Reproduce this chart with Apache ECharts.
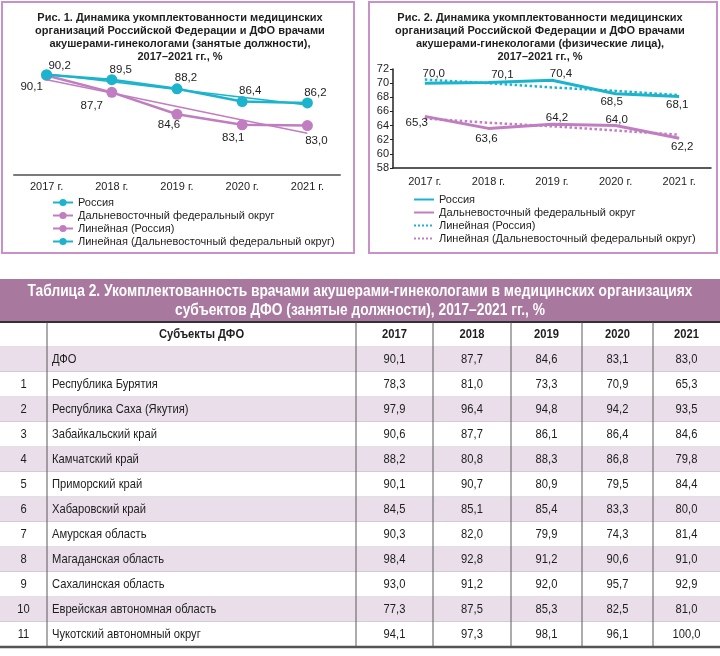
<!DOCTYPE html>
<html><head><meta charset="utf-8">
<script src="https://cdn.jsdelivr.net/npm/echarts@6/dist/echarts.min.js"></script>
<style>
html,body{margin:0;padding:0;background:#fff;width:720px;height:656px;overflow:hidden}
#c1{position:absolute;left:0;top:0;width:360px;height:260px}
#c2{position:absolute;left:360px;top:0;width:360px;height:260px}
#t{position:absolute;left:0;top:260px;width:720px;height:396px}
</style></head><body>
<div id="c1"></div><div id="c2"></div><div id="t"></div>
<script>
// ---------- DATA ----------
const years = ['2017 г.', '2018 г.', '2019 г.', '2020 г.', '2021 г.'];

// Fig. 1 (occupied positions)
const fig1Russia = [90.2, 89.5, 88.2, 86.4, 86.2];
const fig1DFO = [90.1, 87.7, 84.6, 83.1, 83.0];
const fig1TrendPurple = [89.5, 87.6, 85.7, 83.8, 81.9];   // legend: "Линейная (Россия)"
const fig1TrendCyan = [90.3, 89.2, 88.1, 87.0, 85.9];     // legend: "Линейная (ДФО)"

// Fig. 2 (physical persons)
const fig2Russia = [70.0, 70.1, 70.4, 68.5, 68.1];
const fig2DFO = [65.3, 63.6, 64.2, 64.0, 62.2];
const fig2TrendRussia = [70.5, 70.0, 69.4, 68.9, 68.3];
const fig2TrendDFO = [65.0, 64.4, 63.9, 63.3, 62.7];

// Table 2
const tableYears = ['2017', '2018', '2019', '2020', '2021'];
const regionNums = ['', '1', '2', '3', '4', '5', '6', '7', '8', '9', '10', '11'];
const regionNames = ['ДФО', 'Республика Бурятия', 'Республика Саха (Якутия)', 'Забайкальский край',
  'Камчатский край', 'Приморский край', 'Хабаровский край', 'Амурская область', 'Магаданская область',
  'Сахалинская область', 'Еврейская автономная область', 'Чукотский автономный округ'];
const t2017 = [90.1, 78.3, 97.9, 90.6, 88.2, 90.1, 84.5, 90.3, 98.4, 93.0, 77.3, 94.1];
const t2018 = [87.7, 81.0, 96.4, 87.7, 80.8, 90.7, 85.1, 82.0, 92.8, 91.2, 87.5, 97.3];
const t2019 = [84.6, 73.3, 94.8, 86.1, 88.3, 80.9, 85.4, 79.9, 91.2, 92.0, 85.3, 98.1];
const t2020 = [83.1, 70.9, 94.2, 86.4, 86.8, 79.5, 83.3, 74.3, 90.6, 95.7, 82.5, 96.1];
const t2021 = [83.0, 65.3, 93.5, 84.6, 79.8, 84.4, 80.0, 81.4, 91.0, 92.9, 81.0, 100.0];

// ---------- STYLE / LAYOUT ----------
const CYAN = '#1CB4CC', PURPLE = '#C07EC1', BORDER = '#C892C8', TXT = '#1e1e1e';
const FONT = "'Liberation Sans', Arial, sans-serif";
const SQUEEZE = 0.86;   // emulate condensed typeface of the table
const fmt = v => v.toFixed(1).replace('.', ',');
const LEGEND_NAMES = ['Россия', 'Дальневосточный федеральный округ', 'Линейная (Россия)', 'Линейная (Дальневосточный федеральный округ)'];

// label offsets (label centred on point, then shifted)
const f1RusOff = [[13, -9], [9, -10], [9, -11], [8, -11], [8, -10]];
const f1DfoOff = [[-15, 11], [-20, 13], [-8, 11], [-9, 13], [9, 15]];
const f2RusOff = [[9, -9], [14, -8], [9, -6], [-4, 8], [-2, 8]];
const f2DfoOff = [[-8, 6], [-2, 10], [5, -6], [1, -6], [3, 9]];

function withLabels(vals, offs) {
  return vals.map((v, i) => ({ value: v, label: { offset: offs[i] } }));
}
const lblBase = { show: true, position: 'inside', fontSize: 11.5, color: TXT, opacity: 1, fontFamily: FONT, formatter: p => fmt(p.value) };

// ---------- FIG 1 ----------
const c1 = echarts.init(document.getElementById('c1'));
c1.setOption({
  animation: false,
  graphic: [{ type: 'rect', shape: { x: 2, y: 2, width: 352, height: 251 }, style: { fill: 'none', stroke: BORDER, lineWidth: 2 } }],
  title: {
    text: 'Рис. 1. Динамика укомплектованности медицинских\nорганизаций Российской Федерации и ДФО врачами\nакушерами-гинекологами (занятые должности),\n2017–2021 гг., %',
    left: 'center', top: 11, padding: 0,
    textStyle: { fontSize: 11, fontWeight: 'bold', lineHeight: 13, fontFamily: FONT, color: TXT, align: 'center' }
  },
  legend: {
    orient: 'vertical', left: 52, top: 197, padding: 0, itemWidth: 20, itemHeight: 9, itemGap: 2,
    textStyle: { fontSize: 11, color: TXT, fontFamily: FONT },
    data: LEGEND_NAMES
  },
  grid: { left: 14, top: 62, width: 326, height: 113 },
  xAxis: {
    type: 'category', data: years, boundaryGap: true,
    axisLine: { lineStyle: { color: '#7a7a7a', width: 2 } }, axisTick: { show: false },
    axisLabel: { fontSize: 11, color: TXT, fontFamily: FONT, margin: 6 }
  },
  yAxis: { type: 'value', min: 76, max: 92, show: false, splitLine: { show: false } },
  series: [
    { name: 'Линейная (Россия)', type: 'line', data: fig1TrendPurple, symbol: 'none', z: 1,
      lineStyle: { color: PURPLE, width: 1.5 }, itemStyle: { color: PURPLE } },
    { name: 'Линейная (Дальневосточный федеральный округ)', type: 'line', data: fig1TrendCyan, symbol: 'none', z: 1,
      lineStyle: { color: CYAN, width: 1.5 }, itemStyle: { color: CYAN } },
    { name: 'Россия', type: 'line', data: withLabels(fig1Russia, f1RusOff), symbol: 'circle', symbolSize: 11, z: 3,
      lineStyle: { color: CYAN, width: 2.5 }, itemStyle: { color: CYAN }, label: lblBase },
    { name: 'Дальневосточный федеральный округ', type: 'line', data: withLabels(fig1DFO, f1DfoOff), symbol: 'circle', symbolSize: 11, z: 2,
      lineStyle: { color: PURPLE, width: 2.5 }, itemStyle: { color: PURPLE }, label: lblBase }
  ]
});

// ---------- FIG 2 ----------
const c2 = echarts.init(document.getElementById('c2'));
c2.setOption({
  animation: false,
  graphic: [{ type: 'rect', shape: { x: 9, y: 2, width: 348, height: 251 }, style: { fill: 'none', stroke: BORDER, lineWidth: 2 } }],
  title: {
    text: 'Рис. 2. Динамика укомплектованности медицинских\nорганизаций Российской Федерации и ДФО врачами\nакушерами-гинекологами (физические лица),\n2017–2021 гг., %',
    left: 'center', top: 11, padding: 0,
    textStyle: { fontSize: 11, fontWeight: 'bold', lineHeight: 13, fontFamily: FONT, color: TXT, align: 'center' }
  },
  legend: {
    orient: 'vertical', left: 53, top: 194, padding: 0, itemWidth: 20, itemHeight: 9, itemGap: 2,
    itemStyle: { opacity: 0 },
    textStyle: { fontSize: 11, color: TXT, fontFamily: FONT },
    data: LEGEND_NAMES
  },
  grid: { left: 33, top: 69, width: 318, height: 99 },
  xAxis: {
    type: 'category', data: years, boundaryGap: true,
    axisLine: { lineStyle: { color: '#222', width: 1.5 } }, axisTick: { show: false },
    axisLabel: { fontSize: 11, color: TXT, fontFamily: FONT, margin: 8 }
  },
  yAxis: {
    type: 'value', min: 58, max: 72, interval: 2,
    axisLine: { show: true, lineStyle: { color: '#222', width: 1.5 } },
    axisTick: { show: true, length: 3, lineStyle: { color: '#222' } },
    axisLabel: { fontSize: 11, color: TXT, fontFamily: FONT, margin: 4 },
    splitLine: { show: false }
  },
  series: [
    { name: 'Линейная (Россия)', type: 'line', data: fig2TrendRussia, symbol: 'none', z: 1,
      lineStyle: { color: CYAN, width: 2.5, type: 'dotted' }, itemStyle: { color: CYAN } },
    { name: 'Линейная (Дальневосточный федеральный округ)', type: 'line', data: fig2TrendDFO, symbol: 'none', z: 1,
      lineStyle: { color: PURPLE, width: 2.5, type: 'dotted' }, itemStyle: { color: PURPLE } },
    { name: 'Россия', type: 'line', data: fig2Russia, symbol: 'none', z: 3,
      lineStyle: { color: CYAN, width: 3 }, itemStyle: { color: CYAN } },
    { name: 'Дальневосточный федеральный округ', type: 'line', data: fig2DFO, symbol: 'none', z: 2,
      lineStyle: { color: PURPLE, width: 3 }, itemStyle: { color: PURPLE } },
    // value labels (transparent carrier points)
    { name: 'labels-ru', type: 'scatter', data: withLabels(fig2Russia, f2RusOff), symbolSize: 2, z: 4,
      itemStyle: { color: 'rgba(0,0,0,0)', opacity: 1 }, label: lblBase, silent: true },
    { name: 'labels-dfo', type: 'scatter', data: withLabels(fig2DFO, f2DfoOff), symbolSize: 2, z: 4,
      itemStyle: { color: 'rgba(0,0,0,0)', opacity: 1 }, label: lblBase, silent: true }
  ]
});

// ---------- TABLE ----------
const colEdges = [0, 47, 356, 433, 511, 582, 653, 720];
const yearCols = [t2017, t2018, t2019, t2020, t2021];
const nRows = regionNames.length + 1;
const cells = [];
for (let r = 0; r < nRows; r++) for (let c = 0; c < colEdges.length - 1; c++) cells.push([c, r]);

function cellText(c, r) {
  if (r === 0) return c === 0 ? '' : (c === 1 ? 'Субъекты ДФО' : tableYears[c - 2]);
  const i = r - 1;
  if (c === 0) return regionNums[i];
  if (c === 1) return regionNames[i];
  return fmt(yearCols[c - 2][i]);
}

const tc = echarts.init(document.getElementById('t'));
tc.setOption({
  animation: false,
  graphic: [
    { type: 'rect', shape: { x: 0, y: 19, width: 720, height: 43 }, style: { fill: '#A9789F' } },
    { type: 'text', x: 360, y: 41, scaleX: SQUEEZE, style: {
      text: 'Таблица 2. Укомплектованность врачами акушерами-гинекологами в медицинских организациях\nсубъектов ДФО (занятые должности), 2017–2021 гг., %',
      fill: '#fff', font: 'bold 16px ' + FONT, align: 'center', verticalAlign: 'middle', lineHeight: 19.5 } }
  ],
  grid: { left: 0, right: 0, top: 62, height: 325 },
  xAxis: { type: 'value', min: 0, max: 720, show: false },
  yAxis: { type: 'value', min: 0, max: nRows, inverse: true, show: false },
  series: [{
    type: 'custom', clip: false, data: cells,
    renderItem: function (params, api) {
      const c = api.value(0), r = api.value(1);
      const p0 = api.coord([colEdges[c], r]);
      const p1 = api.coord([colEdges[c + 1], r + 1]);
      const w = p1[0] - p0[0], h = p1[1] - p0[1];
      const kids = [];
      kids.push({ type: 'rect', shape: { x: p0[0], y: p0[1], width: w, height: h },
        style: { fill: (r % 2 === 1) ? '#E9DEEA' : '#ffffff' } });
      if (r < nRows - 1) kids.push({ type: 'line', shape: { x1: p0[0], y1: p1[1], x2: p1[0], y2: p1[1] },
        style: { stroke: '#a9a9a9', lineWidth: 0.7 } });
      if (c > 0) kids.push({ type: 'line', shape: { x1: p0[0], y1: p0[1], x2: p0[0], y2: p1[1] },
        style: { stroke: '#5a5a5a', lineWidth: 1 } });
      if (r === 0) kids.push({ type: 'line', shape: { x1: p0[0], y1: p0[1], x2: p1[0], y2: p0[1] },
        style: { stroke: '#333', lineWidth: 2 } });
      if (r === nRows - 1) kids.push({ type: 'line', shape: { x1: p0[0], y1: p1[1], x2: p1[0], y2: p1[1] },
        style: { stroke: '#555', lineWidth: 2.5 } });
      const left = (c === 1 && r > 0);
      kids.push({ type: 'text', x: left ? p0[0] + 5 : p0[0] + w / 2, y: p0[1] + h / 2, scaleX: SQUEEZE,
        style: { text: cellText(c, r), fill: TXT, align: left ? 'left' : 'center', verticalAlign: 'middle',
          font: (r === 0 ? 'bold ' : '') + '13px ' + FONT } });
      return { type: 'group', children: kids };
    }
  }]
});
</script>
</body></html>
